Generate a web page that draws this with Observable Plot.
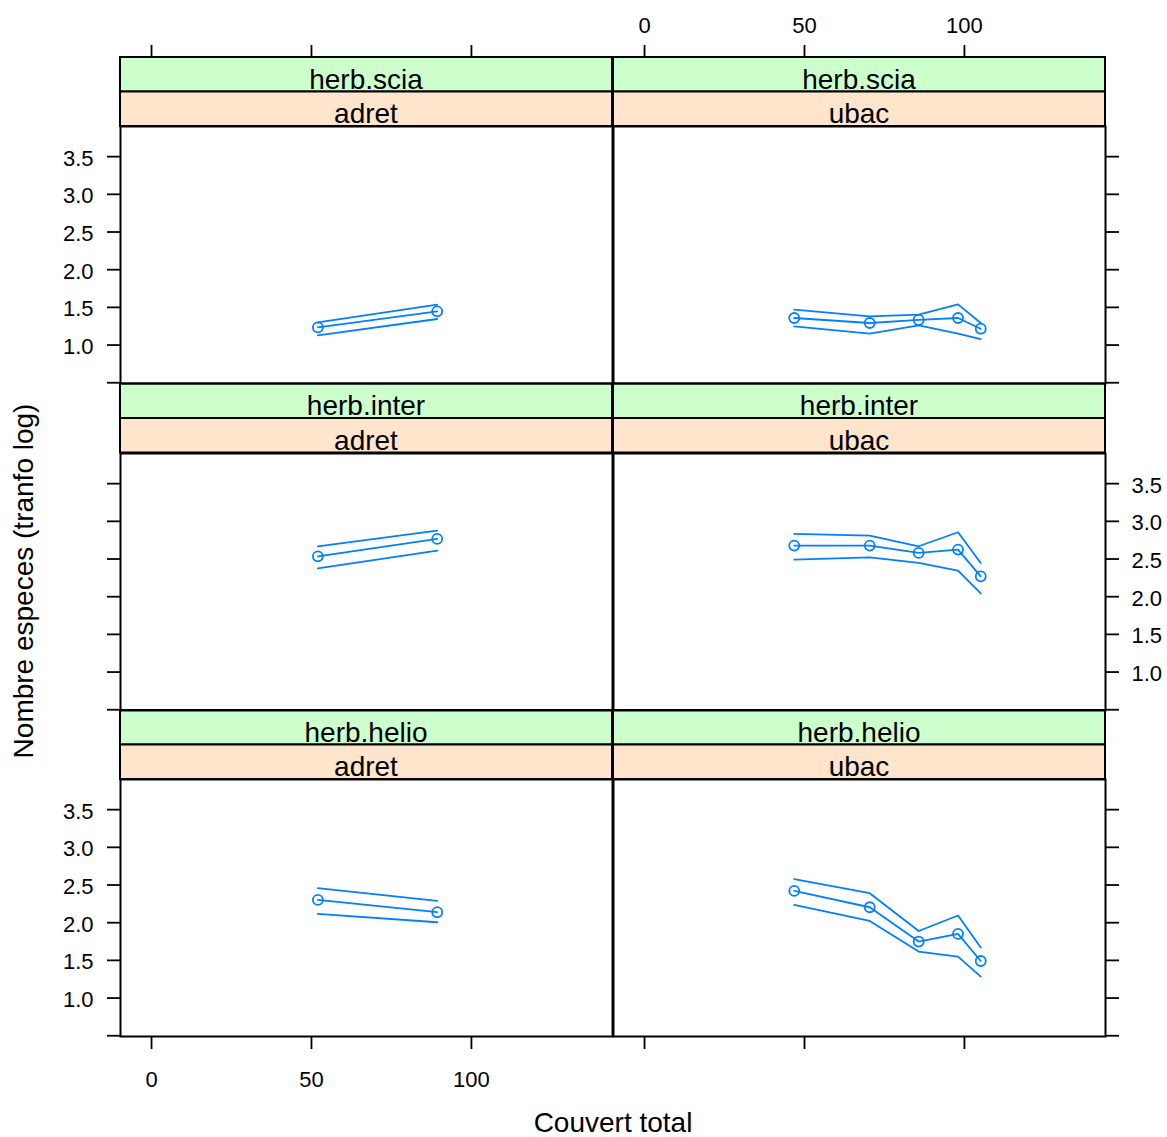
<!DOCTYPE html>
<html>
<head>
<meta charset="utf-8">
<script src="https://cdn.jsdelivr.net/npm/d3@7"></script>
<script src="https://cdn.jsdelivr.net/npm/@observablehq/plot@0.6"></script>
<style>
  html, body { margin: 0; padding: 0; background: white; }
  #chart { position: relative; width: 1167px; height: 1137px; overflow: hidden; background: white; }
  #chart svg { position: absolute; overflow: visible; }
</style>
</head>
<body>
<div id="chart"></div>
<script>
// ---------- data ----------
const groups = ["herb.scia", "herb.inter", "herb.helio"];
const expositions = ["adret", "ubac"];
const xTicks = [0, 50, 100];
const yTicks = [0.5, 1.0, 1.5, 2.0, 2.5, 3.0, 3.5];

const couvertAdret = [52.0, 89.3];
const couvertUbac = [46.8, 70.4, 85.7, 98.0, 105.1];

const sciaAdretFit = [1.234, 1.447];
const sciaAdretLow = [1.128, 1.346];
const sciaAdretUp  = [1.301, 1.536];
const sciaUbacFit = [1.359, 1.293, 1.333, 1.359, 1.217];
const sciaUbacLow = [1.248, 1.151, 1.261, 1.151, 1.080];
const sciaUbacUp  = [1.469, 1.380, 1.403, 1.540, 1.293];

const interAdretFit = [2.536, 2.767];
const interAdretLow = [2.377, 2.612];
const interAdretUp  = [2.669, 2.877];
const interUbacFit = [2.678, 2.678, 2.581, 2.625, 2.270];
const interUbacLow = [2.492, 2.523, 2.448, 2.346, 2.045];
const interUbacUp  = [2.833, 2.811, 2.669, 2.855, 2.448];

const helioAdretFit = [2.302, 2.139];
const helioAdretLow = [2.116, 2.006];
const helioAdretUp  = [2.458, 2.289];
const helioUbacFit = [2.422, 2.205, 1.750, 1.851, 1.492];
const helioUbacLow = [2.236, 2.023, 1.617, 1.550, 1.285];
const helioUbacUp  = [2.577, 2.391, 1.890, 2.095, 1.670];

const series = {
  "herb.scia":  {adret: [sciaAdretFit, sciaAdretLow, sciaAdretUp],  ubac: [sciaUbacFit, sciaUbacLow, sciaUbacUp]},
  "herb.inter": {adret: [interAdretFit, interAdretLow, interAdretUp], ubac: [interUbacFit, interUbacLow, interUbacUp]},
  "herb.helio": {adret: [helioAdretFit, helioAdretLow, helioAdretUp], ubac: [helioUbacFit, helioUbacLow, helioUbacUp]}
};
const couvert = {adret: couvertAdret, ubac: couvertUbac};

// ---------- layout ----------
const FONT = "'Liberation Sans', Arial, Helvetica, sans-serif";
const BLUE = "#0080ff";
const colX0 = [120, 613];
const colW = 492;
const stripTop = [57, 383.5, 710];
const stripH = 34.5;
const panelH = 257;
const xDomain = [-9.7, 144.1];
const yDomain = [0.49, 3.9];

const chart = document.getElementById("chart");

// overlay for strips and titles (drawn below plots)
const overlay = d3.create("svg")
  .attr("width", 1167).attr("height", 1137)
  .style("left", "0px").style("top", "0px")
  .attr("font-family", FONT);

groups.forEach((g, r) => {
  expositions.forEach((e, c) => {
    const x0 = colX0[c], y0 = stripTop[r];
    overlay.append("rect").attr("x", x0).attr("y", y0).attr("width", colW).attr("height", stripH)
      .attr("fill", "#ccffcc").attr("stroke", "black").attr("stroke-width", 2);
    overlay.append("rect").attr("x", x0).attr("y", y0 + stripH).attr("width", colW).attr("height", stripH)
      .attr("fill", "#ffe5cc").attr("stroke", "black").attr("stroke-width", 2);
    overlay.append("text").attr("x", x0 + colW / 2).attr("y", y0 + stripH - 3)
      .attr("text-anchor", "middle").attr("font-size", 28).attr("fill", "black").text(g);
    overlay.append("text").attr("x", x0 + colW / 2).attr("y", y0 + 2 * stripH - 3)
      .attr("text-anchor", "middle").attr("font-size", 28).attr("fill", "black").text(e);
  });
});
overlay.append("text").attr("x", 613).attr("y", 1132).attr("text-anchor", "middle")
  .attr("font-size", 28).attr("fill", "black").text("Couvert total");
overlay.append("text").attr("transform", "translate(33,581) rotate(-90)").attr("text-anchor", "middle")
  .attr("font-size", 28).attr("fill", "black").text("Nombre especes (tranfo log)");
chart.appendChild(overlay.node());

const axisStyle = {fontFamily: FONT, fontSize: "22px", color: "black", background: "transparent", overflow: "visible"};
const fmt = d => d.toFixed(1);
const blank = () => "";

// top axes
expositions.forEach((e, c) => {
  const mL = c === 0 ? 120 : 2, mR = c === 0 ? 2 : 62;
  const p = Plot.plot({
    width: mL + colW + mR, height: 60,
    marginLeft: mL, marginRight: mR, marginTop: 57, marginBottom: 0,
    x: {domain: xDomain},
    style: axisStyle,
    marks: [
      Plot.axisX(xTicks, {anchor: "top", tickSize: 13, tickPadding: 12, strokeWidth: 1.8, fontSize: 22,
        label: null, tickFormat: c === 1 ? d => String(d) : blank})
    ]
  });
  p.style.left = (colX0[c] - mL) + "px";
  p.style.top = "0px";
  chart.appendChild(p);
});

// panels
groups.forEach((g, r) => {
  expositions.forEach((e, c) => {
    const xs = couvert[e];
    const [fit, low, up] = series[g][e];
    const rows = xs.map((x, i) => ({couvert: x, fit: fit[i], low: low[i], up: up[i]}));
    const mL = c === 0 ? 120 : 2, mR = c === 0 ? 2 : 62;
    const mT = 2, mB = r === 2 ? 99 : 2;
    const plotTop = stripTop[r] + 2 * stripH;

    // y labels: left col rows 0,2 ; right col row 1
    const yLabelled = (c === 0 && r !== 1) || (c === 1 && r === 1);
    const yFormat = yLabelled ? (d => d === 0.5 ? "" : fmt(d)) : blank;
    const marks = [
      Plot.axisY(yTicks, {anchor: c === 0 ? "left" : "right", tickSize: 13, tickPadding: c === 0 ? 14 : 13,
        strokeWidth: 1.8, fontSize: 22, label: null, tickFormat: yFormat}),
      Plot.line(rows, {x: "couvert", y: "low", stroke: BLUE, strokeWidth: 1.8}),
      Plot.line(rows, {x: "couvert", y: "up", stroke: BLUE, strokeWidth: 1.8}),
      Plot.line(rows, {x: "couvert", y: "fit", stroke: BLUE, strokeWidth: 1.8}),
      Plot.dot(rows, {x: "couvert", y: "fit", r: 5, stroke: BLUE, strokeWidth: 1.8, fill: "none"}),
      Plot.frame({stroke: "black", strokeWidth: 2})
    ];
    if (r === 2) {
      marks.unshift(Plot.axisX(xTicks, {anchor: "bottom", tickSize: 13, tickPadding: 22, strokeWidth: 1.8,
        fontSize: 22, label: null, tickFormat: c === 0 ? d => String(d) : blank}));
    }
    const p = Plot.plot({
      width: mL + colW + mR, height: mT + panelH + mB,
      marginLeft: mL, marginRight: mR, marginTop: mT, marginBottom: mB,
      x: r === 2 ? {domain: xDomain} : {domain: xDomain, axis: null},
      y: {domain: yDomain, axis: null},
      style: axisStyle,
      marks
    });
    // shift y tick labels slightly down, as in the reference
    const lbl = p.querySelector("g[aria-label='y-axis tick label']");
    if (lbl) {
      const tr = lbl.getAttribute("transform") || "";
      lbl.setAttribute("transform", (tr + " translate(0,2)").trim());
    }
    p.style.left = (colX0[c] - mL) + "px";
    p.style.top = (plotTop - mT) + "px";
    chart.appendChild(p);
  });
});
</script>
</body>
</html>
